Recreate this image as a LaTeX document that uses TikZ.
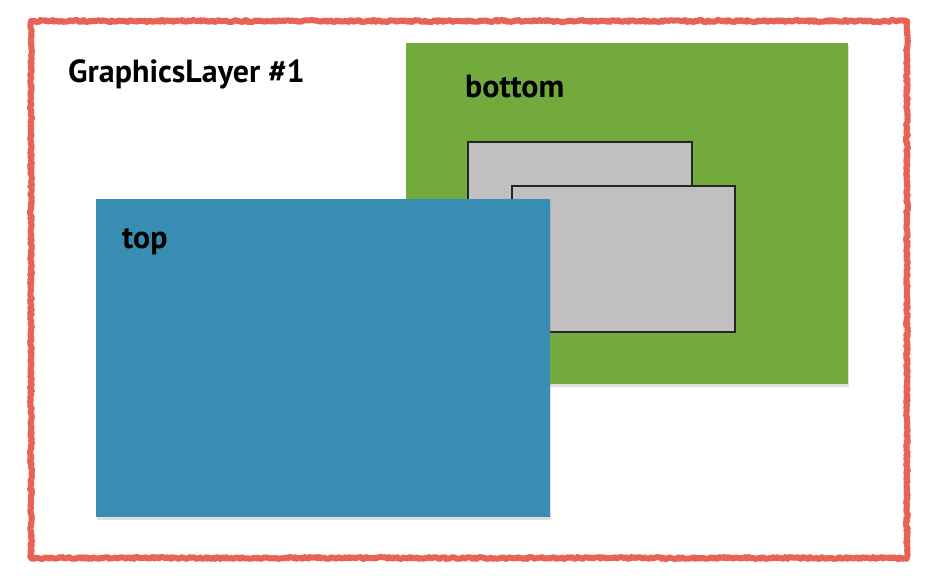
\documentclass[tikz,border=0pt]{standalone}
\usepackage{fontspec}
\setmainfont{PT Sans}
\usetikzlibrary{decorations.pathmorphing,shadows}

\definecolor{layerred}{RGB}{232,98,86}
\definecolor{bottomgreen}{RGB}{114,170,62}
\definecolor{topblue}{RGB}{58,141,178}
\definecolor{boxgray}{RGB}{192,192,192}

\begin{document}
\begin{tikzpicture}[
		x=1pt,y=-1pt,
		layer/.style={
			draw=layerred,
			line width=6pt,
			line join=round,
			decorate,
			decoration={random steps,segment length=1.5pt,amplitude=1pt}
		},
		sheet/.style={
			draw=none,
			drop shadow={shadow xshift=1pt,shadow yshift=-3pt,opacity=0.25}
		},
		inner/.style={
			fill=boxgray,
			draw=black!85,
			line width=1.2pt
		},
		caption/.style={
			anchor=base west,
			inner sep=0,
			font=\fontsize{32}{36}\selectfont\bfseries
		}
		]
		\useasboundingbox (0,0) rectangle (932,584);
		% outer layer
		\draw[layer] (31,21) rectangle (907,558);
		\node[caption] (layername) at (68,82) {GraphicsLayer \#1};
		% bottom
		\path[sheet,fill=bottomgreen] (406,43) rectangle (848,384);
		\node[caption] (bottomname) at (465,97) {bottom};
		\draw[inner] (468,142) rectangle (692,240);
		\draw[inner] (512,186) rectangle (735,332);
		% top
		\path[sheet,fill=topblue] (96,199) rectangle (550,517);
		\node[caption] (topname) at (122,248) {top};
\end{tikzpicture}
\end{document}
